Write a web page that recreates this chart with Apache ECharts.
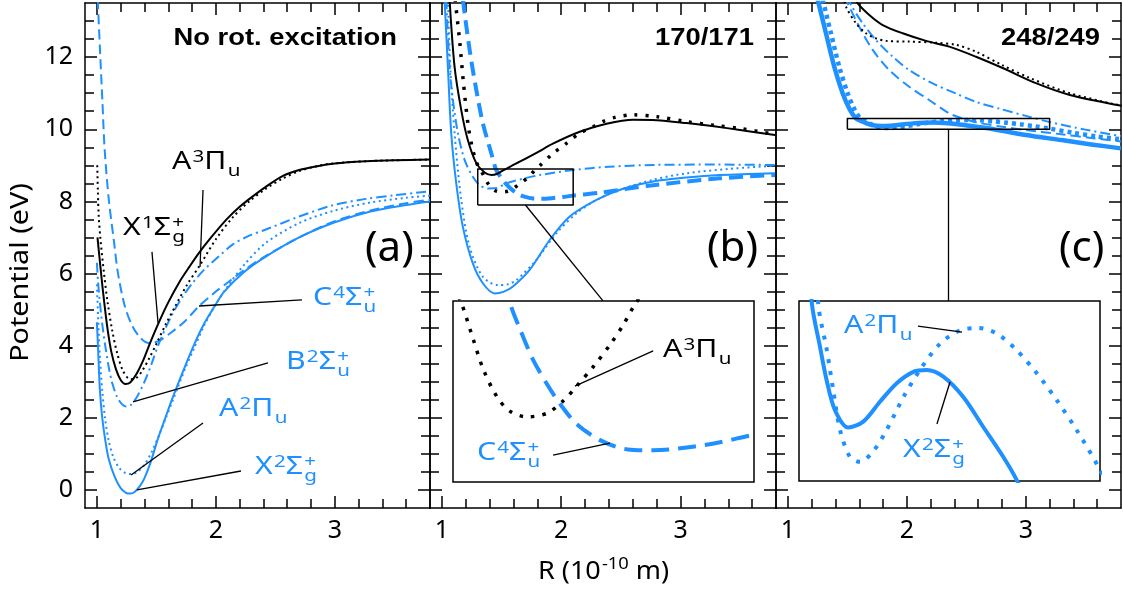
<!DOCTYPE html>
<html>
<head>
<meta charset="utf-8">
<script src="https://cdn.jsdelivr.net/npm/echarts@6/dist/echarts.min.js"></script>
<style>
  html, body { margin: 0; padding: 0; background: #fff; }
  #chart { width: 1123px; height: 593px; }
</style>
</head>
<body>
<div id="chart"></div>
<script>
// ---- axis ranges and tick values -------------------------------------------
const X_RANGE = [0.9, 3.8];
const Y_RANGE = [-0.5, 13.5];
const X_MAJOR = [1, 2, 3];
const X_MINOR = [1.2, 1.4, 1.6, 1.8, 2.2, 2.4, 2.6, 2.8, 3.2, 3.4, 3.6];
const Y_MAJOR = [0, 2, 4, 6, 8, 10, 12];
const Y_MINOR = [0.5, 1, 1.5, 2.5, 3, 3.5, 4.5, 5, 5.5, 6.5, 7, 7.5, 8.5, 9, 9.5, 10.5, 11, 11.5, 12.5, 13];

// zoomed windows (R range, energy range) shown in the insets of (b) and (c)
const B_ZOOM_X = [1.3, 2.1];
const B_ZOOM_Y = [7.9, 8.9];
const C_ZOOM_X = [1.5, 3.2];
const C_ZOOM_Y = [10.0, 10.3];

// ---- (a) no rotational excitation: [R, V] --------------------------------
const aX1 = [[1.005,7.0],[1.02,6.5],[1.04,5.85],[1.06,5.25],[1.09,4.45],[1.12,3.85],[1.16,3.35],[1.20,3.05],[1.24,2.94],[1.28,2.98],[1.33,3.2],[1.39,3.6],[1.45,4.1],[1.52,4.64],[1.60,5.2],[1.70,5.8],[1.78,6.2],[1.86,6.58],[1.96,7.0],[2.09,7.5],[2.2,7.85],[2.31,8.14],[2.44,8.45],[2.56,8.7],[2.7,8.87],[2.84,8.97],[3.0,9.05],[3.26,9.11],[3.5,9.14],[3.8,9.16]];
const aA3 = [[1.003,9.0],[1.008,8.3],[1.015,7.6],[1.03,6.95],[1.06,6.0],[1.09,5.2],[1.13,4.4],[1.17,3.8],[1.22,3.3],[1.28,3.07],[1.33,3.1],[1.38,3.3],[1.44,3.65],[1.50,4.05],[1.58,4.6],[1.66,5.1],[1.76,5.7],[1.86,6.2],[2.0,6.95],[2.14,7.55],[2.28,8.0],[2.42,8.35],[2.56,8.63],[2.7,8.84],[2.84,8.97],[2.98,9.05],[3.3,9.12],[3.8,9.16]];
const aX2 = [[1.0,4.65],[1.01,3.9],[1.025,2.78],[1.045,2.0],[1.07,1.39],[1.10,0.85],[1.15,0.36],[1.20,0.05],[1.245,-0.08],[1.28,-0.1],[1.31,-0.07],[1.34,0.02],[1.37,0.15],[1.40,0.33],[1.45,0.75],[1.51,1.39],[1.57,1.95],[1.63,2.5],[1.74,3.42],[1.82,4.05],[1.90,4.6],[2.0,5.15],[2.07,5.5],[2.24,6.05],[2.41,6.45],[2.7,7.0],[3.0,7.42],[3.3,7.72],[3.6,7.9],[3.8,8.0]];
const aA2 = [[1.0,5.7],[1.01,4.8],[1.025,3.7],[1.045,2.75],[1.07,1.95],[1.10,1.35],[1.14,0.9],[1.19,0.6],[1.24,0.47],[1.29,0.44],[1.34,0.5],[1.40,0.7],[1.46,1.05],[1.52,1.5],[1.58,2.0],[1.64,2.5],[1.74,3.35],[1.82,3.95],[1.90,4.55],[2.0,5.15],[2.1,5.65],[2.24,6.25],[2.42,6.85],[2.7,7.4],[2.98,7.73],[3.3,7.97],[3.6,8.1],[3.8,8.16]];
const aB2 = [[1.0,6.3],[1.01,5.75],[1.025,5.2],[1.045,4.6],[1.07,4.0],[1.10,3.4],[1.13,2.95],[1.17,2.58],[1.21,2.38],[1.25,2.31],[1.29,2.37],[1.34,2.6],[1.40,3.0],[1.46,3.5],[1.52,4.05],[1.63,4.85],[1.72,5.35],[1.80,5.72],[1.9,6.1],[2.0,6.4],[2.14,6.8],[2.28,7.05],[2.42,7.22],[2.7,7.58],[2.98,7.89],[3.26,8.07],[3.5,8.17],[3.8,8.28]];
const aC4 = [[1.007,13.6],[1.026,12.2],[1.046,10.8],[1.065,9.45],[1.10,8.05],[1.145,6.85],[1.176,6.03],[1.235,5.09],[1.30,4.53],[1.37,4.2],[1.44,4.07],[1.52,4.13],[1.63,4.38],[1.74,4.68],[1.86,5.1],[2.0,5.5],[2.1,5.75],[2.24,6.1],[2.41,6.47],[2.7,7.0],[3.0,7.45],[3.3,7.75],[3.6,7.95],[3.8,8.05]];

// ---- (b) 170/171 ----------------------------------------------------------
const bX1 = [[1.064,13.6],[1.106,11.73],[1.162,10.53],[1.217,9.70],[1.288,9.06],[1.358,8.80],[1.416,8.73],[1.46,8.76],[1.513,8.86],[1.58,8.98],[1.652,9.1],[1.80,9.36],[1.93,9.6],[2.155,9.93],[2.38,10.15],[2.603,10.26],[2.8,10.25],[3.05,10.17],[3.28,10.08],[3.499,9.98],[3.792,9.84]];
const bA3 = [[1.11,13.6],[1.15,12.4],[1.18,11.3],[1.22,10.1],[1.25,9.55],[1.277,9.2],[1.30,9.0],[1.324,8.88],[1.355,8.68],[1.381,8.52],[1.417,8.37],[1.452,8.29],[1.497,8.26],[1.55,8.28],[1.594,8.35],[1.629,8.43],[1.674,8.54],[1.718,8.66],[1.753,8.77],[1.78,8.87],[1.82,8.99],[1.931,9.33],[2.044,9.61],[2.155,9.89],[2.267,10.07],[2.351,10.22],[2.45,10.33],[2.603,10.4],[2.8,10.35],[3.05,10.21],[3.28,10.11],[3.499,10.02],[3.79,9.86]];
const bX2 = [[1.022,13.6],[1.05,11.73],[1.078,9.89],[1.12,8.5],[1.175,7.3],[1.259,6.28],[1.343,5.73],[1.442,5.45],[1.52,5.5],[1.595,5.64],[1.735,6.10],[1.903,6.93],[2.071,7.58],[2.295,8.04],[2.5,8.33],[2.771,8.55],[3.05,8.66],[3.331,8.73],[3.792,8.78]];
const bA2 = [[1.05,13.6],[1.07,11.73],[1.106,9.89],[1.162,8.04],[1.232,6.74],[1.343,5.91],[1.469,5.68],[1.55,5.7],[1.624,5.82],[1.792,6.38],[1.96,7.12],[2.128,7.67],[2.3,8.05],[2.491,8.32],[2.77,8.6],[3.05,8.78],[3.4,8.9],[3.792,8.99]];
const bB2 = [[1.036,13.6],[1.064,11.73],[1.092,10.81],[1.134,9.89],[1.19,9.15],[1.259,8.68],[1.316,8.45],[1.385,8.36],[1.456,8.37],[1.54,8.50],[1.68,8.63],[1.819,8.73],[2.099,8.87],[2.4,8.96],[2.771,9.01],[3.3,9.02],[3.792,9.01]];
const bC4 = [[1.175,13.6],[1.232,12.2],[1.288,11.09],[1.343,10.17],[1.414,9.33],[1.452,8.89],[1.479,8.74],[1.514,8.57],[1.55,8.44],[1.585,8.33],[1.629,8.22],[1.692,8.13],[1.764,8.08],[1.833,8.075],[1.921,8.09],[2.01,8.12],[2.098,8.16],[2.323,8.24],[2.771,8.45],[3.331,8.64],[3.792,8.73]];

// ---- (c) 248/249 ----------------------------------------------------------
const cX1 = [[1.56,13.7],[1.587,13.49],[1.684,13.17],[1.797,12.89],[1.965,12.66],[2.161,12.45],[2.356,12.29],[2.581,12.01],[2.81,11.69],[3.09,11.27],[3.37,10.95],[3.805,10.65]];
const cA3 = [[1.47,13.7],[1.488,13.4],[1.572,12.94],[1.656,12.66],[1.74,12.52],[1.824,12.45],[2.02,12.43],[2.245,12.40],[2.413,12.34],[2.581,12.15],[2.8,11.78],[3.034,11.42],[3.37,11.0],[3.805,10.65]];
const cX2 = [[1.25,13.6],[1.32,12.66],[1.39,11.73],[1.46,11.0],[1.52,10.55],[1.572,10.298],[1.619,10.223],[1.656,10.168],[1.703,10.118],[1.778,10.089],[1.863,10.099],[1.957,10.132],[2.052,10.163],[2.146,10.182],[2.221,10.185],[2.315,10.174],[2.428,10.14],[2.541,10.09],[2.654,10.04],[2.729,10.002],[3.0,9.84],[3.3,9.70],[3.55,9.58],[3.8,9.47]];
const cA2 = [[1.292,13.6],[1.362,12.66],[1.432,11.73],[1.503,10.99],[1.56,10.55],[1.609,10.294],[1.656,10.22],[1.694,10.15],[1.732,10.085],[1.788,10.04],[1.845,10.032],[1.92,10.05],[1.995,10.085],[2.09,10.14],[2.183,10.185],[2.297,10.229],[2.409,10.251],[2.513,10.255],[2.616,10.246],[2.729,10.218],[2.842,10.18],[2.955,10.135],[3.068,10.085],[3.19,10.024],[3.4,9.9],[3.6,9.8],[3.8,9.72]];
const cB2 = [[1.50,13.7],[1.530,13.45],[1.628,12.94],[1.74,12.47],[1.881,12.01],[2.02,11.64],[2.217,11.27],[2.413,10.99],[2.581,10.76],[2.8,10.55],[3.0,10.37],[3.2,10.2],[3.5,9.99],[3.8,9.81]];
const cC4 = [[1.48,13.7],[1.503,13.49],[1.60,12.84],[1.713,12.2],[1.852,11.64],[2.02,11.18],[2.188,10.81],[2.356,10.44],[2.469,10.30],[2.6,10.18],[2.8,10.07],[3.0,9.98],[3.3,9.86],[3.55,9.76],[3.8,9.66]];

// ---- annotation leader lines (data coordinates of their panel) -----------
const LEAD_A = [
  [[1.892,8.316],[1.867,6.18]],   // A3Pu
  [[1.463,6.60],[1.514,4.63]],    // X1Sg+
  [[2.724,5.27],[1.858,5.10]],    // C4Su+
  [[2.438,3.52],[1.303,2.44]],    // B2Su+
  [[1.892,1.857],[1.287,0.415]],  // A2Pu
  [[2.211,0.526],[1.337,0.0]]     // X2Sg+
];
const LEAD_BI = [[[1.832,8.624],[1.624,8.43]], [[1.566,8.049],[1.717,8.115]]];
const LEAD_CI = [[[2.172,10.258],[2.421,10.248]], [[2.279,10.095],[2.353,10.165]]];
const LINK_B = [[1.70,7.9],[2.35,5.24]];
const LINK_C = [[2.35,10.0],[2.35,5.24]];

// ---- styling ---------------------------------------------------------------
const BLUE = '#1e90ff';
const BLACK = '#000';
const FONT = 'Noto Sans';
const DOT = [2, 3.5];
const DASH = [10, 5];
const DASHDOT = [10, 4, 2, 4];

const GRIDS = [
  { left: 85,  top: 3,   width: 345, height: 505 },
  { left: 430, top: 3,   width: 346, height: 505 },
  { left: 776, top: 3,   width: 345, height: 505 },
  { left: 453, top: 301, width: 301, height: 181, show: true, backgroundColor: '#fff', borderColor: '#000', borderWidth: 1.5, z: 3 },
  { left: 799, top: 301, width: 301, height: 180, show: true, backgroundColor: '#fff', borderColor: '#000', borderWidth: 1.5, z: 3 }
];

const TICK = { color: '#000', width: 1.5 };
const AXLINE = { show: true, onZero: false, lineStyle: { color: '#000', width: 1.5 } };
const NOLINE = { show: false, onZero: false };
const LABEL = { color: '#000', fontSize: 25, fontFamily: FONT };

function framedX(gi) {
  const base = { type: 'value', gridIndex: gi, min: X_RANGE[0], max: X_RANGE[1], splitLine: { show: false } };
  return [
    { ...base, position: 'bottom', axisLine: AXLINE, axisTick: { show: true, inside: true, length: 12, customValues: X_MAJOR, lineStyle: TICK }, axisLabel: { ...LABEL, show: true, customValues: X_MAJOR, margin: 10 } },
    { ...base, position: 'bottom', axisLine: NOLINE, axisTick: { show: true, inside: true, length: 9, customValues: X_MINOR, lineStyle: TICK }, axisLabel: { show: false } },
    { ...base, position: 'top', axisLine: AXLINE, axisTick: { show: true, inside: true, length: 12, customValues: X_MAJOR, lineStyle: TICK }, axisLabel: { show: false } },
    { ...base, position: 'top', axisLine: NOLINE, axisTick: { show: true, inside: true, length: 9, customValues: X_MINOR, lineStyle: TICK }, axisLabel: { show: false } }
  ];
}
function framedY(gi) {
  const base = { type: 'value', gridIndex: gi, min: Y_RANGE[0], max: Y_RANGE[1], splitLine: { show: false } };
  return [
    { ...base, position: 'left', axisLine: AXLINE, axisTick: { show: true, inside: true, length: 12, customValues: Y_MAJOR, lineStyle: TICK }, axisLabel: { ...LABEL, show: gi === 0, customValues: Y_MAJOR, margin: 12 } },
    { ...base, position: 'left', axisLine: NOLINE, axisTick: { show: true, inside: true, length: 9, customValues: Y_MINOR, lineStyle: TICK }, axisLabel: { show: false } },
    { ...base, position: 'right', axisLine: AXLINE, axisTick: { show: true, inside: true, length: 12, customValues: Y_MAJOR, lineStyle: TICK }, axisLabel: { show: false } },
    { ...base, position: 'right', axisLine: NOLINE, axisTick: { show: true, inside: true, length: 9, customValues: Y_MINOR, lineStyle: TICK }, axisLabel: { show: false } }
  ];
}

const xAxes = [...framedX(0), ...framedX(1), ...framedX(2),
  { type: 'value', gridIndex: 3, min: B_ZOOM_X[0], max: B_ZOOM_X[1], show: false },
  { type: 'value', gridIndex: 4, min: C_ZOOM_X[0], max: C_ZOOM_X[1], show: false }];
const yAxes = [...framedY(0), ...framedY(1), ...framedY(2),
  { type: 'value', gridIndex: 3, min: B_ZOOM_Y[0], max: B_ZOOM_Y[1], show: false },
  { type: 'value', gridIndex: 4, min: C_ZOOM_Y[0], max: C_ZOOM_Y[1], show: false }];
const AX = [0, 4, 8, 12, 13];

function curve(data, g, color, width, type, smooth) {
  return {
    type: 'line', data, xAxisIndex: AX[g], yAxisIndex: AX[g],
    symbol: 'none', showSymbol: false, clip: true, silent: true,
    smooth: smooth === undefined ? 0.3 : smooth, z: g >= 3 ? 5 : 2,
    lineStyle: { color, width, type: type || 'solid', cap: 'butt', join: 'round' }
  };
}
function seg(points, g, width) {
  return curve(points, g, BLACK, width || 1.3, 'solid', false);
}
function box(xr, yr, g) {
  return seg([[xr[0], yr[0]], [xr[1], yr[0]], [xr[1], yr[1]], [xr[0], yr[1]], [xr[0], yr[0]]], g, 1.5);
}

const series = [
  // (a)
  curve(aC4, 0, BLUE, 2, DASH),
  curve(aB2, 0, BLUE, 2, DASHDOT),
  curve(aA2, 0, BLUE, 2, DOT),
  curve(aX2, 0, BLUE, 2),
  curve(aA3, 0, BLACK, 2, DOT),
  curve(aX1, 0, BLACK, 2),
  ...LEAD_A.map(p => seg(p, 0)),
  // (b)
  curve(bB2, 1, BLUE, 2, DASHDOT),
  curve(bA2, 1, BLUE, 2, DOT),
  curve(bX2, 1, BLUE, 2),
  curve(bC4, 1, BLUE, 4, [14, 7]),
  curve(bA3, 1, BLACK, 3.5, [3, 8]),
  curve(bX1, 1, BLACK, 2),
  box(B_ZOOM_X, B_ZOOM_Y, 1),
  seg(LINK_B, 1),
  // (c)
  curve(cC4, 2, BLUE, 2, DASH),
  curve(cB2, 2, BLUE, 2, DASHDOT),
  curve(cA3, 2, BLACK, 2, DOT),
  curve(cX1, 2, BLACK, 2),
  curve(cA2, 2, BLUE, 4.5, [4, 4]),
  curve(cX2, 2, BLUE, 4.5),
  box(C_ZOOM_X, C_ZOOM_Y, 2),
  seg(LINK_C, 2),
  // inset (b)
  curve(bC4, 3, BLUE, 4, [18, 9]),
  curve(bA3, 3, BLACK, 3.5, [3.5, 8]),
  ...LEAD_BI.map(p => seg(p, 3)),
  // inset (c)
  curve(cA2, 4, BLUE, 4, [4, 8]),
  curve(cX2, 4, BLUE, 4),
  ...LEAD_CI.map(p => seg(p, 4))
];

// ---- text: state labels with super/subscripts ----------------------------
const SIZE = 25, SMALL = 17;
const ctx = document.createElement('canvas').getContext('2d');
function width(t, size, weight) {
  ctx.font = (weight || 'normal') + ' ' + size + 'px "' + FONT + '"';
  return ctx.measureText(t).width;
}
function piece(t, x, y, size, color) {
  return { type: 'text', x, y, z: 100, silent: true,
    style: { text: t, fill: color, fontSize: size, fontFamily: FONT, align: 'left', verticalAlign: 'middle' } };
}
// parts: [text] main, [text,'sup'], [text,'sub'] or [text,'sub',supText] stacked
function stateLabel(left, baseline, parts, color, stretch, supRise) {
  const kids = [];
  let cx = 0;
  const mainY = -0.388 * SIZE;
  const supY = -(supRise || 0.32) * SIZE - 0.388 * SMALL;
  const subY = 0.24 * SIZE - 0.388 * SMALL;
  for (const p of parts) {
    const [t, kind, t2] = p;
    if (!kind) {
      kids.push(piece(t, cx, mainY, SIZE, color));
      cx += width(t, SIZE);
    } else if (kind === 'sup') {
      kids.push(piece(t, cx + 1, supY, SMALL, color));
      cx += width(t, SMALL) + 1;
    } else {
      kids.push(piece(t, cx + 1, subY, SMALL, color));
      let w = width(t, SMALL);
      if (t2) {
        kids.push(piece(t2, cx + 1, supY, SMALL, color));
        w = Math.max(w, width(t2, SMALL));
      }
      cx += w + 1;
    }
  }
  return { type: 'group', x: left, y: baseline, scaleX: stretch, children: kids };
}

const S_A3 = [['A'], ['3', 'sup'], ['Π'], ['u', 'sub']];
const S_X1 = [['X'], ['1', 'sup'], ['Σ'], ['g', 'sub', '+']];
const S_C4 = [['C'], ['4', 'sup'], ['Σ'], ['u', 'sub', '+']];
const S_B2 = [['B'], ['2', 'sup'], ['Σ'], ['u', 'sub', '+']];
const S_A2 = [['A'], ['2', 'sup'], ['Π'], ['u', 'sub']];
const S_X2 = [['X'], ['2', 'sup'], ['Σ'], ['g', 'sub', '+']];

const STATE_TEXT = [
  [172, 172, S_A3, BLACK], [123, 238, S_X1, BLACK], [313, 308, S_C4, BLUE],
  [286, 372, S_B2, BLUE], [219, 419, S_A2, BLUE], [255, 477, S_X2, BLUE],
  [663, 360, S_A3, BLACK], [477, 463, S_C4, BLUE],
  [844, 336, S_A2, BLUE], [903, 460, S_X2, BLUE]
];

const PANEL_TITLES = [['No rot. excitation', 397], ['170/171', 754], ['248/249', 1100]];
const PANEL_TAGS = [['(a)', 365], ['(b)', 707], ['(c)', 1059]];

const graphics = [];
STATE_TEXT.forEach(([x, y, parts, color]) => graphics.push(stateLabel(x, y, parts, color, 1.21)));
PANEL_TITLES.forEach(([t, right]) => graphics.push({
  type: 'text', x: right, y: 38.4, scaleX: 1.14, z: 100, silent: true,
  style: { text: t, fill: '#000', fontSize: 24, fontWeight: 'bold', fontFamily: 'Liberation Sans', align: 'right', verticalAlign: 'middle' }
}));
PANEL_TAGS.forEach(([t, left]) => graphics.push({
  type: 'text', x: left, y: 249, z: 100, silent: true,
  style: { text: t, fill: '#000', fontSize: 42, fontFamily: FONT, align: 'left', verticalAlign: 'middle' }
}));
// axis titles
graphics.push({
  type: 'text', x: 21, y: 272.5, rotation: Math.PI / 2, scaleX: 1.15, z: 100, silent: true,
  style: { text: 'Potential (eV)', fill: '#000', fontSize: 25, fontFamily: FONT, align: 'center', verticalAlign: 'middle' }
});
graphics.push(stateLabel(538, 581.7, [['R (10'], ['-10', 'sup'], [' m)']], '#000', 1.08, 0.42));

const chart = echarts.init(document.getElementById('chart'), null, { renderer: 'canvas' });
chart.setOption({
  animation: false,
  backgroundColor: '#fff',
  grid: GRIDS,
  xAxis: xAxes,
  yAxis: yAxes,
  series,
  graphic: { elements: graphics }
});
</script>
</body>
</html>
